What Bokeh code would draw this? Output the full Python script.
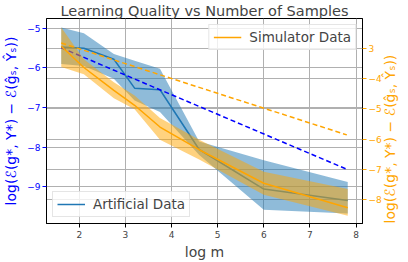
import math
from bokeh.plotting import figure
from bokeh.models import (Range1d, LinearAxis, FixedTicker, Grid, Legend, LegendItem)
from bokeh.embed import file_html
from bokeh.resources import INLINE

# ---------------- data ----------------
log_m = [1.61, 2.1, 2.75, 3.2, 3.75, 4.6, 6.0, 7.82]

art_mean = [-5.47, -5.50, -5.78, -6.51, -6.55, -8.06, -9.06, -9.35]
art_upper = [-4.98, -5.12, -5.65, -5.82, -6.02, -7.86, -8.33, -8.88]
art_lower = [-5.90, -5.95, -6.27, -6.82, -7.11, -8.20, -9.58, -9.68]

sim_mean = [-2.93, -3.63, -4.39, -4.88, -5.60, -6.35, -7.46, -8.27]
sim_upper = [-2.31, -3.36, -4.12, -4.56, -5.30, -6.02, -7.08, -7.65]
sim_lower = [-3.61, -3.85, -4.65, -5.01, -6.02, -6.67, -7.84, -8.53]

fit_x = [1.61, 7.80]
art_fit = [-5.49, -8.56]
sim_fit = [-2.82, -5.86]

x_ticks = [2, 3, 4, 5, 6, 7, 8]
left_ticks = [-5, -6, -7, -8, -9]
right_ticks = [-3, -4, -5, -6, -7, -8]
right_tick_labels = ["3", "−4", "−5", "−6", "−7", "−8"]

title_text = "Learning Quality vs Number of Samples"
ylabel = "log(ℰ(g*, Y*) − ℰ(ĝₛ, Ŷₛ))"
xlabel = "log m"

FONT = "DejaVu Sans"
BLUE = "#1f77b4"
ORANGE = "orange"

p = figure(width=408, height=262, output_backend="svg", toolbar_location=None,
           x_range=Range1d(1.29, 8.14), y_range=Range1d(-9.93, -4.75))
p.extra_y_ranges = {"right": Range1d(-8.79, -2.01)}

p.min_border_left = 43
p.min_border_right = 43
p.min_border_top = 17
p.min_border_bottom = 37
p.outline_line_color = "black"
p.outline_line_width = 1
p.background_fill_color = "white"
p.border_fill_color = "white"

p.title.text = title_text
p.title.align = "center"
p.title.text_font = FONT
p.title.text_font_size = "14.5px"
p.title.text_font_style = "normal"
p.title.standoff = 0
p.title.offset = 0

# grids
p.xgrid.ticker = FixedTicker(ticks=x_ticks)
p.ygrid.ticker = FixedTicker(ticks=left_ticks)
for g in (p.xgrid[0], p.ygrid[0]):
    g.grid_line_color = "#b0b0b0"
    g.grid_line_width = 1
rgrid = Grid(dimension=1, ticker=FixedTicker(ticks=right_ticks), y_range_name="right",
             grid_line_color="#b0b0b0", grid_line_width=1)
p.add_layout(rgrid)

# x axis
xa = p.xaxis[0]
xa.ticker = FixedTicker(ticks=x_ticks)
xa.axis_label = xlabel
xa.axis_label_text_font = FONT
xa.axis_label_text_font_size = "14px"
xa.axis_label_text_font_style = "normal"
xa.axis_label_standoff = 3
xa.major_label_text_font = FONT
xa.major_label_text_font_size = "9px"
xa.major_label_standoff = 3
xa.minor_tick_line_color = None
xa.major_tick_out = 4
xa.major_tick_in = 0

# left axis
ya = p.yaxis[0]
ya.ticker = FixedTicker(ticks=left_ticks)
ya.major_label_overrides = {t: "−" + str(abs(t)) for t in left_ticks}
ya.axis_label = ylabel
ya.axis_label_text_color = "blue"
ya.axis_label_text_font = FONT
ya.axis_label_text_font_size = "14px"
ya.axis_label_text_font_style = "normal"
ya.axis_label_standoff = 5
ya.major_label_text_color = "blue"
ya.major_label_text_font = FONT
ya.major_label_text_font_size = "9px"
ya.major_label_standoff = 2
ya.major_tick_line_color = "blue"
ya.minor_tick_line_color = None
ya.major_tick_out = 4
ya.major_tick_in = 0

# right axis
ra = LinearAxis(y_range_name="right", ticker=FixedTicker(ticks=right_ticks))
ra.major_label_overrides = dict(zip(right_ticks, right_tick_labels))
ra.axis_label = ylabel
ra.axis_label_text_color = ORANGE
ra.axis_label_text_font = FONT
ra.axis_label_text_font_size = "14px"
ra.axis_label_text_font_style = "normal"
ra.axis_label_standoff = 5
ra.major_label_text_color = ORANGE
ra.major_label_text_font = FONT
ra.major_label_text_font_size = "9px"
ra.major_label_standoff = 2
ra.major_tick_line_color = ORANGE
ra.minor_tick_line_color = None
ra.major_tick_out = 4
ra.major_tick_in = 0
try:
    ra.axis_label_orientation = math.pi / 2
    ra.axis_label_align = "start"
except Exception:
    pass
p.add_layout(ra, "right")

# artificial data (left axis)
p.varea(x=log_m, y1=art_lower, y2=art_upper, fill_color=BLUE, fill_alpha=0.5)
art_line = p.line(log_m, art_mean, line_color=BLUE, line_width=1.5)
p.line(fit_x, art_fit, line_color="blue", line_width=1.5, line_dash="5 3")

# simulator data (right axis)
p.varea(x=log_m, y1=sim_lower, y2=sim_upper, fill_color=ORANGE, fill_alpha=0.5,
        y_range_name="right")
sim_line = p.line(log_m, sim_mean, line_color=ORANGE, line_width=1.5, y_range_name="right")
p.line(fit_x, sim_fit, line_color=ORANGE, line_width=1.5, line_dash="5 3",
       y_range_name="right")


def style_legend(lg):
    lg.label_text_font = FONT
    lg.label_text_font_size = "13.5px"
    lg.glyph_width = 28
    lg.glyph_height = 12
    lg.padding = 4
    lg.spacing = 0
    lg.label_standoff = 8
    lg.margin = 6
    lg.border_line_color = "#cccccc"
    lg.background_fill_alpha = 0.8


leg1 = Legend(items=[LegendItem(label="Artificial Data", renderers=[art_line])],
              location="bottom_left")
style_legend(leg1)
leg2 = Legend(items=[LegendItem(label="Simulator Data", renderers=[sim_line])],
              location="top_right")
style_legend(leg2)
p.add_layout(leg1)
p.add_layout(leg2)

open("out.html", "w").write(file_html(p, INLINE))
